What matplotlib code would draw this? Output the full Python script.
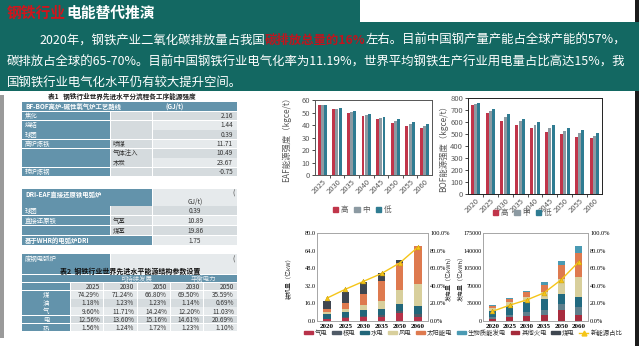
import numpy as np
import matplotlib
matplotlib.use("Agg")
import matplotlib.pyplot as plt
from matplotlib.patches import Rectangle, Patch
from matplotlib.lines import Line2D
from matplotlib.ticker import FuncFormatter, MultipleLocator

plt.rcParams['font.family'] = ['Noto Sans CJK SC', 'DejaVu Sans']

# ---- data ----
eaf_years = ['2025', '2030', '2035', '2040', '2045', '2050', '2055', '2060']
eaf_high = [56, 53, 49.5, 47, 44.5, 42, 39.5, 37.5]
eaf_mid = [56, 53, 50.5, 48, 45.5, 43, 41, 39]
eaf_low = [56, 53.5, 51, 49, 46.5, 44.5, 42.5, 41]

bof_years = ['2020', '2025', '2030', '2035', '2040', '2045', '2050', '2055', '2060']
bof_high = [744, 674, 605, 577, 549, 518, 499, 474, 465]
bof_mid = [752, 694, 641, 605, 577, 552, 529, 507, 485]
bof_low = [758, 708, 663, 627, 602, 577, 554, 535, 507]

mix_years = ['2020', '2025', '2030', '2035', '2050', '2060']
cap_gas = [1.5, 2.5, 3.5, 4, 7, 4]
cap_nuclear = [0.5, 0.8, 1.0, 1.3, 2, 2.5]
cap_hydro = [4.5, 5, 5.5, 6, 6.5, 7]
cap_wind = [2, 3, 5, 7, 13, 20]
cap_solar = [2.5, 5, 10, 18, 24, 35]
cap_coal = [7.5, 10.3, 10.5, 7.5, 3, 0]
cap_share = [26, 36, 45, 54, 66, 84]

gen_thermal = [3500, 7000, 10000, 11000, 21000, 11000]
gen_coal = [3500, 5000, 7000, 10000, 13000, 17000]
gen_hydro = [13000, 17000, 20000, 23000, 20000, 20000]
gen_wind = [5000, 9000, 11000, 13000, 30000, 40000]
gen_solar = [4000, 6000, 10000, 15000, 28000, 47000]
gen_bio = [2500, 2000, 2000, 5000, 7000, 15000]
gen_share = [11, 18, 24, 32, 47, 67]

t1_labels = ['焦化', '烧结', '球团', '高炉炼铁', '', '', '转炉炼钢']
t1_sub = ['', '', '', '喷煤', '气体注入', '木炭', '']
t1_vals = ['2.16', '1.44', '0.39', '11.71', '10.49', '23.67', '-0.75']

dri_labels = ['球团', '直接还原铁', '', '基于WHR的电弧炉DRI']
dri_sub = ['', '气基', '煤基', '']
dri_vals = ['0.39', '10.89', '19.86', '1.75']

t2_years = ['2025', '2030', '2050', '2030', '2050']
t2_rows = ['煤', '油', '气', '电', '热']
t2_vals = [['74.29%', '71.24%', '66.80%', '69.50%', '35.59%'],
           ['1.18%', '1.23%', '1.23%', '1.14%', '0.69%'],
           ['9.60%', '11.71%', '14.24%', '12.20%', '11.03%'],
           ['12.56%', '13.60%', '15.16%', '14.61%', '20.69%'],
           ['1.56%', '1.24%', '1.72%', '1.23%', '1.10%']]

TEAL = '#136862'
RED = '#d0141c'
STEEL = '#6393ab'
LGRAY = '#d5dbde'
LGRAY2 = '#e6eaec'
C_HIGH, C_MID, C_LOW = '#c0354a', '#8c9aa2', '#2f7c92'

W, H = 639, 346
fig = plt.figure(figsize=(W / 100, H / 100), dpi=100)
fig.patch.set_facecolor('white')

bg = fig.add_axes([0, 0, 1, 1])
bg.set_xlim(0, W)
bg.set_ylim(H, 0)
bg.axis('off')
renderer = fig.canvas.get_renderer()


def rect(x0, y0, x1, y1, color, z=1):
    bg.add_patch(Rectangle((x0, y0), x1 - x0, y1 - y0, facecolor=color, lw=0, zorder=z))


def txt(x, y, s, size=4.6, color='#333333', ha='left', weight='normal', z=3, **kw):
    return bg.text(x, y, s, fontsize=size, color=color, ha=ha, va='center',
                   fontweight=weight, zorder=z, **kw)


def runs(x, y, parts, size, z=5):
    for s, color, weight in parts:
        t = bg.text(x, y, s, fontsize=size, color=color, va='center', fontweight=weight, zorder=z)
        x += t.get_window_extent(renderer).width


def runs_width(parts, size):
    total = 0
    for s, color, weight in parts:
        t = bg.text(0, 0, s, fontsize=size, fontweight=weight)
        total += t.get_window_extent(renderer).width
        t.remove()
    return total


# ---- header band ----
rect(0, 0, W, 91, TEAL)
rect(360, 0, 635, 22, 'white', z=2)
rect(635, 0, W, 22, '#1c1c1c', z=2)
rect(635, 91, W, H, '#1c1c1c', z=2)
rect(0, 95, 3.5, 338, '#9a9a9a')

title = [('钢铁行业', RED, 'bold'), ('电能替代推演', 'white', 'bold')]
runs(7, 13, title, 10 * 148 / runs_width(title, 10))

line1 = [('2020年，钢铁产业二氧化碳排放量占我国', 'white', 'normal'),
         ('碳排放总量的16%', '#c0141e', 'bold'),
         ('左右。目前中国钢产量产能占全球产能的57%，', 'white', 'normal')]
line2 = [('碳排放占全球的65-70%。目前中国钢铁行业电气化率为11.19%，世界平均钢铁生产行业用电量占比高达15%，我',
          'white', 'normal')]
line3 = [('国钢铁行业电气化水平仍有较大提升空间。', 'white', 'normal')]
body_size = 10 * 620 / runs_width(line2, 10)
runs(39, 40, line1, body_size)
runs(7, 62, line2, body_size)
runs(7, 83, line3, body_size)

# ---- table 1 ----
txt(122, 96, '表1   钢铁行业世界先进水平分流程各工序能源强度', size=4.8, ha='center', weight='bold', color='#222222')
rect(22, 102, 237, 111, STEEL)
txt(25, 106.5, 'BF-BOF高炉-碱性氧气炉工艺路线', color='white', weight='bold')
txt(165, 106.5, '(GJ/t)', color='white', weight='bold')
rh = 9.3
for i in range(len(t1_vals)):
    y0 = 111.8 + i * rh
    y1 = y0 + rh - 0.8
    yc = (y0 + y1) / 2
    rect(22, y0, 110, y1, STEEL)
    rect(110.6, y0, 152, y1, LGRAY)
    rect(152.6, y0, 237, y1, LGRAY if i % 2 == 0 else LGRAY2)
    txt(25, yc, t1_labels[i], color='white')
    txt(113, yc, t1_sub[i])
    txt(233, yc, t1_vals[i], ha='right')

# ---- DRI table ----
rect(22, 189, 152, 205.5, STEEL)
rect(152.6, 189, 237, 205.5, LGRAY2)
txt(25, 194, 'DRI-EAF直接还原铁电弧炉', color='white', weight='bold')
txt(232, 194, '(', size=5)
txt(195, 202, 'GJ/t)', ha='center')
rh = 10
for i in range(len(dri_vals)):
    y0 = 206 + i * rh
    y1 = y0 + rh - 0.8
    yc = (y0 + y1) / 2
    if i == 3:
        rect(22, y0, 152, y1, STEEL)
    else:
        rect(22, y0, 110, y1, STEEL)
        rect(110.6, y0, 152, y1, LGRAY)
    rect(152.6, y0, 237, y1, LGRAY if i % 2 == 0 else LGRAY2)
    txt(25, yc, dri_labels[i], color='white', weight='bold' if i == 3 else 'normal')
    txt(113, yc, dri_sub[i])
    txt(195, yc, dri_vals[i], ha='center')

# ---- scrap EAF header + table 2 ----
rect(22, 254, 110, 274, STEEL)
rect(110.6, 254, 237, 274, LGRAY2)
txt(25, 259, '废钢电弧炉', color='white')
txt(232, 260, '(', size=5)
txt(130, 271.5, '表2  钢铁行业世界先进水平能源结构参数设置', size=5, ha='center', weight='bold', color='#111111', z=6)

cols = [22, 70, 103, 137, 170, 203, 237]
rh = 8.2
y0 = 274.6
rect(22, y0, 102.6, y0 + rh - 0.7, STEEL)
rect(103.4, y0, 169.6, y0 + rh - 0.7, STEEL)
rect(170.4, y0, 237, y0 + rh - 0.7, STEEL)
txt(136.5, y0 + rh / 2, '可持续发展', color='#e8eef2', ha='center')
txt(203.5, y0 + rh / 2, '平衡电力', color='#e8eef2', ha='center')
y0 += rh
rect(22, y0, 70, y0 + rh - 0.7, STEEL)
for j, yr in enumerate(t2_years):
    rect(cols[j + 1] + 0.6, y0, cols[j + 2], y0 + rh - 0.7, LGRAY)
    txt(cols[j + 2] - 3, y0 + rh / 2, yr, ha='right')
for i, name in enumerate(t2_rows):
    y0 += rh
    rect(22, y0, 70, y0 + rh - 0.7, STEEL)
    txt(46, y0 + rh / 2, name, color='white', ha='center')
    for j in range(5):
        rect(cols[j + 1] + 0.6, y0, cols[j + 2], y0 + rh - 0.7, LGRAY2 if i % 2 == 0 else LGRAY)
        txt(cols[j + 2] - 3, y0 + rh / 2, t2_vals[i][j], ha='right')
rect(15, 332.5, 245, H, 'white', z=8)


# ---- charts ----
def fig_axes(x0, y0, x1, y1):
    ax = fig.add_axes([x0 / W, 1 - y1 / H, (x1 - x0) / W, (y1 - y0) / H])
    ax.set_zorder(5)
    return ax


def grouped(ax, years, series, colors, ymax, step, label, lab_x, spine):
    x = np.arange(len(years))
    for k, (vals, c) in enumerate(zip(series, colors)):
        ax.bar(x + (k - 1) * 0.22, vals, width=0.2, color=c, lw=0)
    ax.set_xlim(-0.5, len(years) - 0.5)
    ax.set_ylim(0, ymax)
    ax.yaxis.set_major_locator(MultipleLocator(step))
    ax.set_xticks(x)
    ax.set_xticklabels(years, rotation=45, ha='right', rotation_mode='anchor')
    ax.set_xticks(np.arange(len(years) - 1) + 0.5, minor=True)
    ax.tick_params(axis='x', which='major', length=0, pad=2)
    ax.tick_params(axis='x', which='minor', length=2, width=0.6, color='#333333', direction='out')
    ax.tick_params(axis='y', length=2, width=0.5, pad=1.5)
    ax.tick_params(labelsize=5.5, labelcolor='#595959')
    for s in ax.spines.values():
        s.set_color(spine)
        s.set_linewidth(0.7)
    ax.set_ylabel(label, fontsize=6, color='#595959')
    ax.yaxis.set_label_coords(lab_x, 0.5)


ax1 = fig_axes(315, 100, 432, 175)
grouped(ax1, eaf_years, [eaf_high, eaf_mid, eaf_low], [C_HIGH, C_MID, C_LOW], 60, 10,
        'EAF能源强度（kgce/t）', (291 - 315) / 117, '#555555')
ax2 = fig_axes(468, 98, 602, 194)
grouped(ax2, bof_years, [bof_high, bof_mid, bof_low], [C_HIGH, C_MID, C_LOW], 800, 100,
        'BOF能源强度（kgce/t）', (448 - 468) / 134, '#222222')

lh = [Patch(color=C_HIGH, label='高'), Patch(color=C_MID, label='中'), Patch(color=C_LOW, label='低')]
for cx, cy in [(362, 210), (522, 213)]:
    fig.legend(handles=lh, loc='center', bbox_to_anchor=(cx / W, 1 - cy / H), ncol=3, frameon=False,
               fontsize=5.5, labelcolor='#595959', handlelength=0.7, handleheight=0.7,
               handletextpad=0.3, columnspacing=0.8)

C_GAS, C_NUC, C_HYD, C_WIND = '#b8324a', '#4f5a66', '#22667a', '#d8cf9c'
C_SOLAR, C_BIO, C_THERM, C_COAL = '#de7a4f', '#4a9ab3', '#a52a3a', '#3e4650'
C_LINE = '#f5c518'
serif = 'Liberation Serif'


def stacked(ax, series, colors, ymax, step, fmt, share, left_label, lab_x, tick_size=4.6):
    x = np.arange(len(mix_years))
    bottom = np.zeros(len(mix_years))
    for vals, c in zip(series, colors):
        ax.bar(x, vals, bottom=bottom, width=0.4, color=c, lw=0)
        bottom += np.array(vals)
    ax.set_xlim(-0.55, len(mix_years) - 0.45)
    ax.set_ylim(0, ymax)
    ax.yaxis.set_major_locator(MultipleLocator(step))
    ax.yaxis.set_major_formatter(FuncFormatter(fmt))
    ax.set_xticks(x)
    ax.set_xticklabels(mix_years, fontfamily=serif, fontweight='bold', fontsize=5)
    ax.tick_params(axis='x', length=0, pad=2)
    ax.tick_params(axis='y', length=0, pad=1, labelsize=tick_size)
    for lab in ax.get_yticklabels():
        lab.set_fontfamily(serif)
    for s in ax.spines.values():
        s.set_color('#a6a6a6')
        s.set_linewidth(0.6)
    ax.set_ylabel(left_label, fontsize=4.3, color='#333333')
    ax.yaxis.set_label_coords(lab_x, 0.5)
    tw = ax.twinx()
    tw.plot(x, share, color=C_LINE, lw=1, marker='^', ms=3.5, mec='#c79a00', mew=0.3)
    tw.set_ylim(0, 100)
    tw.yaxis.set_major_locator(MultipleLocator(20))
    tw.yaxis.set_major_formatter(FuncFormatter(lambda v, p: f'{v:.1f}%'))
    tw.tick_params(axis='y', length=0, pad=1.5, labelsize=4.6)
    for lab in tw.get_yticklabels():
        lab.set_fontfamily(serif)
    for s in tw.spines.values():
        s.set_color('#a6a6a6')
        s.set_linewidth(0.6)
    return tw


ax3 = fig_axes(317, 233, 428, 321)
tw3 = stacked(ax3, [cap_gas, cap_nuclear, cap_hydro, cap_wind, cap_solar, cap_coal],
              [C_GAS, C_NUC, C_HYD, C_WIND, C_SOLAR, C_COAL], 80, 16, lambda v, p: f'{v:.1f}',
              cap_share, '装机量（亿kW）', (292 - 317) / 111)
tw3.set_ylabel('发电量（亿kWh）', fontsize=4.3, color='#333333')
tw3.yaxis.set_label_coords((446 - 317) / 111, 0.5)

ax4 = fig_axes(483, 233, 588, 321)
stacked(ax4, [gen_thermal, gen_coal, gen_hydro, gen_wind, gen_solar, gen_bio],
        ['#a82c3e', '#5f7f8c', '#226a80', C_WIND, C_SOLAR, C_BIO], 175000, 35000,
        lambda v, p: f'{v:.0f}', gen_share, '发电量（亿kWh）', (464.5 - 483) / 105, tick_size=4.3)

mh = [Patch(color=C_GAS, label='气电'), Patch(color=C_NUC, label='核电'), Patch(color=C_HYD, label='水电'),
      Patch(color=C_WIND, label='风电'), Patch(color=C_SOLAR, label='太阳能电'),
      Patch(color=C_BIO, label='生物质能发电'), Patch(color=C_THERM, label='其他火电'),
      Patch(color=C_COAL, label='煤电'),
      Line2D([], [], color=C_LINE, lw=1, marker='^', ms=3.5, label='新能源占比')]
fig.legend(handles=mh, loc='center', bbox_to_anchor=(463 / W, 1 - 333 / H), ncol=9, frameon=False,
           fontsize=4.6, labelcolor='#333333', handlelength=1.4, handleheight=0.35,
           handletextpad=0.3, columnspacing=0.7, borderpad=0.2)

fig.savefig('out.png', dpi=100)
